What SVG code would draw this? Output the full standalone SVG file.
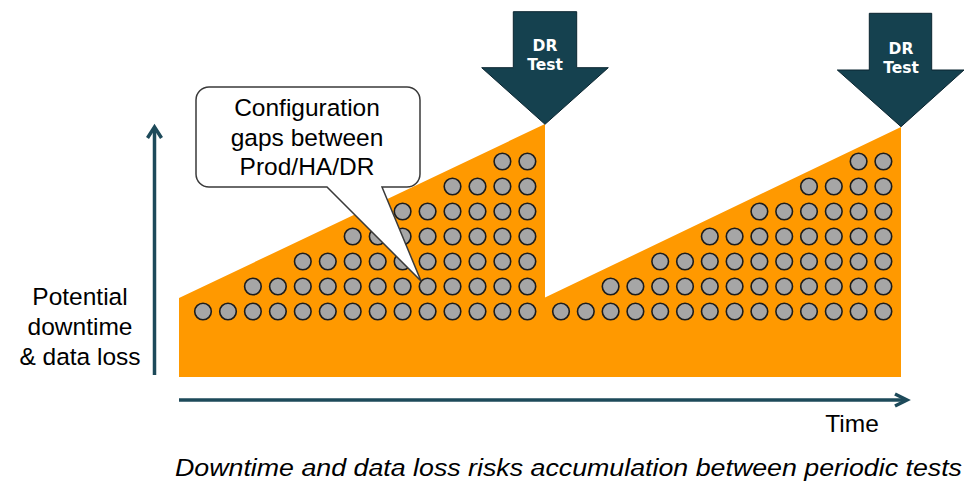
<svg xmlns="http://www.w3.org/2000/svg" width="973" height="482" viewBox="0 0 973 482">
<style>
.dot{fill:#a6a6a6;stroke:#1c1c1c;stroke-width:1.6}
.axis{fill:none;stroke:#1d4a5a;stroke-width:3.5;stroke-linecap:butt}
.lbl{font-family:"Liberation Sans",Arial,sans-serif;font-size:24.5px;fill:#000;text-anchor:middle}
.arr{fill:#15414f;stroke:#0b2530;stroke-width:1}
.arrt{font-family:"DejaVu Sans",Verdana,sans-serif;font-weight:bold;font-size:15.5px;fill:#fff;text-anchor:middle}
</style>
<rect width="973" height="482" fill="#fff"/>
<polygon id="risk" points="179,298 545,124 545,297.5 901,127 901,377 179,377" fill="#ff9900"/>
<g id="dots1">
<circle class="dot" cx="203" cy="311.5" r="8.3"/><circle class="dot" cx="228" cy="311.5" r="8.3"/><circle class="dot" cx="252.9" cy="311.5" r="8.3"/><circle class="dot" cx="277.9" cy="311.5" r="8.3"/><circle class="dot" cx="302.8" cy="311.5" r="8.3"/><circle class="dot" cx="327.8" cy="311.5" r="8.3"/><circle class="dot" cx="352.7" cy="311.5" r="8.3"/><circle class="dot" cx="377.7" cy="311.5" r="8.3"/><circle class="dot" cx="402.6" cy="311.5" r="8.3"/><circle class="dot" cx="427.6" cy="311.5" r="8.3"/><circle class="dot" cx="452.5" cy="311.5" r="8.3"/><circle class="dot" cx="477.5" cy="311.5" r="8.3"/><circle class="dot" cx="502.4" cy="311.5" r="8.3"/><circle class="dot" cx="527.4" cy="311.5" r="8.3"/>
<circle class="dot" cx="252.9" cy="286.5" r="8.3"/><circle class="dot" cx="277.9" cy="286.5" r="8.3"/><circle class="dot" cx="302.8" cy="286.5" r="8.3"/><circle class="dot" cx="327.8" cy="286.5" r="8.3"/><circle class="dot" cx="352.7" cy="286.5" r="8.3"/><circle class="dot" cx="377.7" cy="286.5" r="8.3"/><circle class="dot" cx="402.6" cy="286.5" r="8.3"/><circle class="dot" cx="427.6" cy="286.5" r="8.3"/><circle class="dot" cx="452.5" cy="286.5" r="8.3"/><circle class="dot" cx="477.5" cy="286.5" r="8.3"/><circle class="dot" cx="502.4" cy="286.5" r="8.3"/><circle class="dot" cx="527.4" cy="286.5" r="8.3"/>
<circle class="dot" cx="302.8" cy="261.5" r="8.3"/><circle class="dot" cx="327.8" cy="261.5" r="8.3"/><circle class="dot" cx="352.7" cy="261.5" r="8.3"/><circle class="dot" cx="377.7" cy="261.5" r="8.3"/><circle class="dot" cx="402.6" cy="261.5" r="8.3"/><circle class="dot" cx="427.6" cy="261.5" r="8.3"/><circle class="dot" cx="452.5" cy="261.5" r="8.3"/><circle class="dot" cx="477.5" cy="261.5" r="8.3"/><circle class="dot" cx="502.4" cy="261.5" r="8.3"/><circle class="dot" cx="527.4" cy="261.5" r="8.3"/>
<circle class="dot" cx="352.7" cy="236.5" r="8.3"/><circle class="dot" cx="377.7" cy="236.5" r="8.3"/><circle class="dot" cx="402.6" cy="236.5" r="8.3"/><circle class="dot" cx="427.6" cy="236.5" r="8.3"/><circle class="dot" cx="452.5" cy="236.5" r="8.3"/><circle class="dot" cx="477.5" cy="236.5" r="8.3"/><circle class="dot" cx="502.4" cy="236.5" r="8.3"/><circle class="dot" cx="527.4" cy="236.5" r="8.3"/>
<circle class="dot" cx="402.6" cy="211.5" r="8.3"/><circle class="dot" cx="427.6" cy="211.5" r="8.3"/><circle class="dot" cx="452.5" cy="211.5" r="8.3"/><circle class="dot" cx="477.5" cy="211.5" r="8.3"/><circle class="dot" cx="502.4" cy="211.5" r="8.3"/><circle class="dot" cx="527.4" cy="211.5" r="8.3"/>
<circle class="dot" cx="452.5" cy="186.5" r="8.3"/><circle class="dot" cx="477.5" cy="186.5" r="8.3"/><circle class="dot" cx="502.4" cy="186.5" r="8.3"/><circle class="dot" cx="527.4" cy="186.5" r="8.3"/>
<circle class="dot" cx="502.4" cy="161.5" r="8.3"/><circle class="dot" cx="527.4" cy="161.5" r="8.3"/>
</g>
<g id="dots2">
<circle class="dot" cx="561" cy="311.5" r="8.3"/><circle class="dot" cx="585.8" cy="311.5" r="8.3"/><circle class="dot" cx="610.6" cy="311.5" r="8.3"/><circle class="dot" cx="635.4" cy="311.5" r="8.3"/><circle class="dot" cx="660.2" cy="311.5" r="8.3"/><circle class="dot" cx="685" cy="311.5" r="8.3"/><circle class="dot" cx="709.8" cy="311.5" r="8.3"/><circle class="dot" cx="734.6" cy="311.5" r="8.3"/><circle class="dot" cx="759.4" cy="311.5" r="8.3"/><circle class="dot" cx="784.2" cy="311.5" r="8.3"/><circle class="dot" cx="809" cy="311.5" r="8.3"/><circle class="dot" cx="833.8" cy="311.5" r="8.3"/><circle class="dot" cx="858.6" cy="311.5" r="8.3"/><circle class="dot" cx="883.4" cy="311.5" r="8.3"/>
<circle class="dot" cx="610.6" cy="286.5" r="8.3"/><circle class="dot" cx="635.4" cy="286.5" r="8.3"/><circle class="dot" cx="660.2" cy="286.5" r="8.3"/><circle class="dot" cx="685" cy="286.5" r="8.3"/><circle class="dot" cx="709.8" cy="286.5" r="8.3"/><circle class="dot" cx="734.6" cy="286.5" r="8.3"/><circle class="dot" cx="759.4" cy="286.5" r="8.3"/><circle class="dot" cx="784.2" cy="286.5" r="8.3"/><circle class="dot" cx="809" cy="286.5" r="8.3"/><circle class="dot" cx="833.8" cy="286.5" r="8.3"/><circle class="dot" cx="858.6" cy="286.5" r="8.3"/><circle class="dot" cx="883.4" cy="286.5" r="8.3"/>
<circle class="dot" cx="660.2" cy="261.5" r="8.3"/><circle class="dot" cx="685" cy="261.5" r="8.3"/><circle class="dot" cx="709.8" cy="261.5" r="8.3"/><circle class="dot" cx="734.6" cy="261.5" r="8.3"/><circle class="dot" cx="759.4" cy="261.5" r="8.3"/><circle class="dot" cx="784.2" cy="261.5" r="8.3"/><circle class="dot" cx="809" cy="261.5" r="8.3"/><circle class="dot" cx="833.8" cy="261.5" r="8.3"/><circle class="dot" cx="858.6" cy="261.5" r="8.3"/><circle class="dot" cx="883.4" cy="261.5" r="8.3"/>
<circle class="dot" cx="709.8" cy="236.5" r="8.3"/><circle class="dot" cx="734.6" cy="236.5" r="8.3"/><circle class="dot" cx="759.4" cy="236.5" r="8.3"/><circle class="dot" cx="784.2" cy="236.5" r="8.3"/><circle class="dot" cx="809" cy="236.5" r="8.3"/><circle class="dot" cx="833.8" cy="236.5" r="8.3"/><circle class="dot" cx="858.6" cy="236.5" r="8.3"/><circle class="dot" cx="883.4" cy="236.5" r="8.3"/>
<circle class="dot" cx="759.4" cy="211.5" r="8.3"/><circle class="dot" cx="784.2" cy="211.5" r="8.3"/><circle class="dot" cx="809" cy="211.5" r="8.3"/><circle class="dot" cx="833.8" cy="211.5" r="8.3"/><circle class="dot" cx="858.6" cy="211.5" r="8.3"/><circle class="dot" cx="883.4" cy="211.5" r="8.3"/>
<circle class="dot" cx="809" cy="186.5" r="8.3"/><circle class="dot" cx="833.8" cy="186.5" r="8.3"/><circle class="dot" cx="858.6" cy="186.5" r="8.3"/><circle class="dot" cx="883.4" cy="186.5" r="8.3"/>
<circle class="dot" cx="858.6" cy="161.5" r="8.3"/><circle class="dot" cx="883.4" cy="161.5" r="8.3"/>
</g>
<g id="callout">
<path d="M209,87 H407 A13,13 0 0 1 420,100 V174 A13,13 0 0 1 407,187 H382 L421,281 L327,187 H209 A13,13 0 0 1 196,174 V100 A13,13 0 0 1 209,87 Z" fill="#fff" stroke="#3a3a3a" stroke-width="1.5"/>
<text class="lbl" x="307" y="116">Configuration</text>
<text class="lbl" x="307" y="146">gaps between</text>
<text class="lbl" x="307" y="175">Prod/HA/DR</text>
</g>
<g id="drtest1">
<polygon class="arr" points="513.3,11.7 576.7,11.7 576.7,67.7 608.3,67.7 545,124.3 481.7,67.7 513.3,67.7"/>
<text class="arrt" x="545" y="51">DR</text>
<text class="arrt" x="545" y="70">Test</text>
</g>
<g id="drtest2">
<polygon class="arr" points="869.3,13.3 931.7,13.3 931.7,70 964,70 901,126.7 837.3,70 869.3,70"/>
<text class="arrt" x="901" y="53.5">DR</text>
<text class="arrt" x="901" y="72.5">Test</text>
</g>
<g id="axes">
<line class="axis" x1="154.5" y1="375" x2="154.5" y2="128"/>
<polyline class="axis" points="147.5,138 154.5,127 161.5,138"/>
<line class="axis" x1="179" y1="400" x2="906" y2="400"/>
<polyline class="axis" points="895,394 907,400 895,406"/>
</g>
<g id="labels">
<text class="lbl" x="80" y="305">Potential</text>
<text class="lbl" x="80" y="335">downtime</text>
<text class="lbl" x="80" y="365">&amp; data loss</text>
<text class="lbl" x="852" y="432">Time</text>
<text x="175" y="476" font-family="'Liberation Sans',Arial,sans-serif" font-style="italic" font-size="24.5" fill="#000" textLength="787" lengthAdjust="spacingAndGlyphs">Downtime and data loss risks accumulation between periodic tests</text>
</g>
</svg>
